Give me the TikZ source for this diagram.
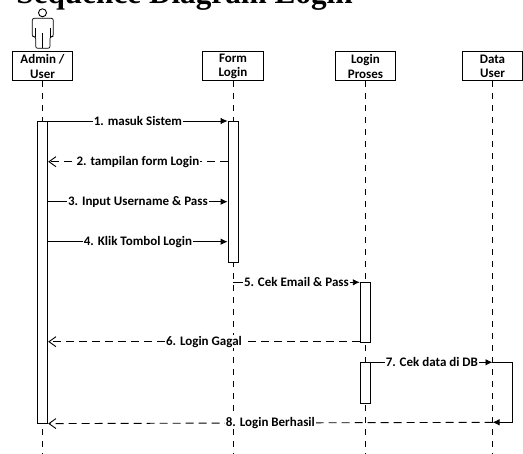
\documentclass[tikz,border=0pt]{standalone}
\usepackage{fontspec}
\setmainfont{Carlito}
\newfontfamily\titlefont{Liberation Serif}
\usetikzlibrary{arrows.meta}
\begin{document}
\begin{tikzpicture}[x=1pt,y=-1pt,line width=0.9pt,font=\fontsize{13}{14.7}\selectfont\bfseries,
obj/.style={draw,minimum width=60.4pt,minimum height=29.3pt,inner sep=0pt,align=center},
bar/.style={draw,fill=white,minimum width=10.5pt,inner sep=0pt,anchor=north},
life/.style={dash pattern=on 6pt off 6pt},
call/.style={-{Latex[length=7pt,width=6.5pt]}},
back/.style={dash pattern=on 8pt off 5pt,-{Straight Barb[length=7pt,width=10pt]}},
lbl/.style={fill=white,inner sep=0.8pt}]
\useasboundingbox (0,0) rectangle (523,454);
\pgfmathsetmacro{\ya}{121}
\pgfmathsetmacro{\yb}{161.7}
\pgfmathsetmacro{\yc}{201.7}
\pgfmathsetmacro{\yd}{241.7}
\pgfmathsetmacro{\ye}{282.3}
\pgfmathsetmacro{\yf}{341.7}
\pgfmathsetmacro{\yg}{362.3}
\pgfmathsetmacro{\yh}{422.3}
\node[anchor=base west,inner sep=0pt,font=\titlefont\fontsize{31.2}{32}\selectfont\bfseries](title)at(16,3.2){Sequence Diagram Login};
\draw(42.5,12.8)circle(4);
\draw[line width=0.7pt,rounded corners=2pt](35.7,36.7)--(32.3,36.7)--(32.3,18.3)--(53.3,18.3)--(53.3,36.7)--(50,36.7)--(50,48.3)--(35.7,48.3)--cycle;
\draw[line width=0.7pt](35.7,28)--(35.7,36.7)(50,28)--(50,36.7)(42.5,33)--(42.5,48.3);
\node[obj](admin)at(42.5,66.3){Admin /\\User};
\node[obj](form)at(233,66.3){Form\\Login};
\node[obj](proses)at(365.5,66.3){Login\\Proses};
\node[obj](data)at(492.5,66.3){Data\\User};
\foreach \o in {admin,form,proses,data}
  \draw[life](\o.south)--(\o.south|-0,454);
\node[bar,minimum height=302pt](adminbar)at(42.5,120.7){};
\node[bar,minimum height=141.3pt](formbar)at(233.3,\ya){};
\node[bar,minimum height=60pt](prosesbar)at(365.5,281.7){};
\node[bar,minimum height=40.4pt](cekbar)at(365.5,\yg){};
\coordinate(ka)at(form.south|-0,\ye);
\coordinate(kb)at(data.south|-0,\yg);
\coordinate(kc)at(data.south|-0,\yh);
\draw[call](adminbar.east|-0,\ya)--(formbar.west|-0,\ya)node[lbl,midway]{1. masuk Sistem};
\draw[back](formbar.west|-0,\yb)--(adminbar.east|-0,\yb)node[lbl,midway]{2. tampilan form Login};
\draw[call](adminbar.east|-0,\yc)--(formbar.west|-0,\yc)node[lbl,midway]{3. Input Username \& Pass};
\draw[call](adminbar.east|-0,\yd)--(formbar.west|-0,\yd)node[lbl,midway]{4. Klik Tombol Login};
\draw[call](ka)--(prosesbar.west|-0,\ye)node[lbl,midway]{5. Cek Email \& Pass};
\draw[back](prosesbar.west|-0,\yf)--(adminbar.east|-0,\yf)node[lbl,midway]{6. Login Gagal};
\draw[call](cekbar.north east)--(kb)node[lbl,midway]{7. Cek data di DB};
\draw[call](kb)--++(20,0)|-(kc);
\draw[back](kc)--(adminbar.south east)node[lbl,midway]{8. Login Berhasil};
\end{tikzpicture}
\end{document}
